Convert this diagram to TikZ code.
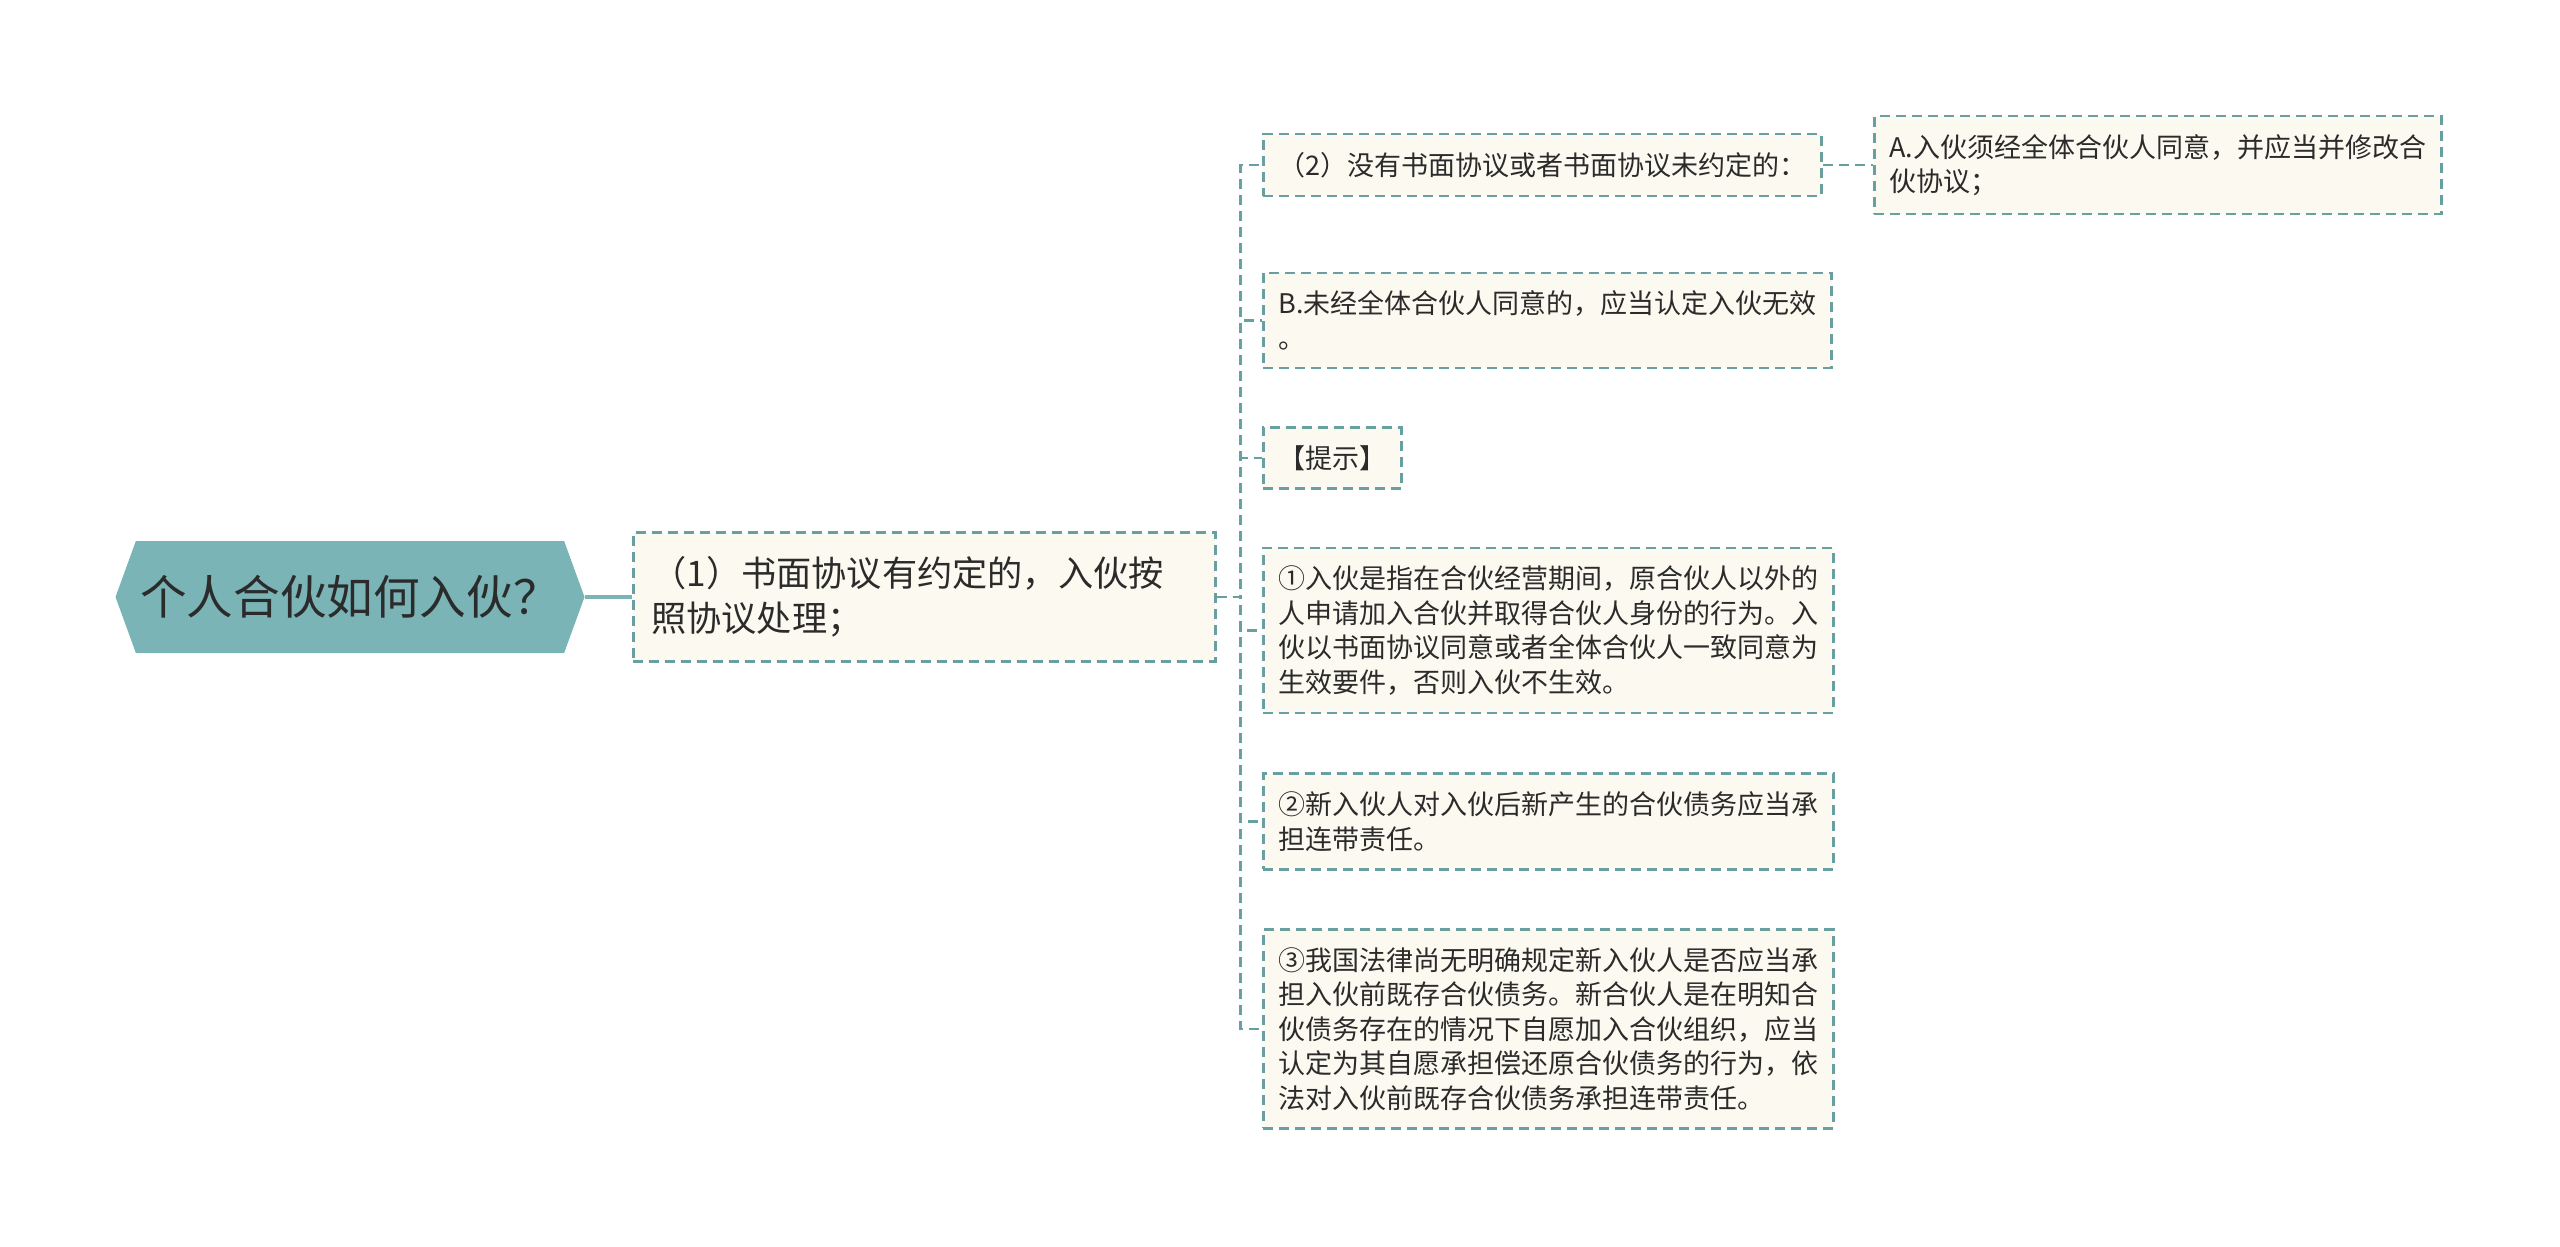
\documentclass[tikz,border=0pt]{standalone}
\usepackage{fontspec}
\setmainfont{Noto Sans CJK SC}
\usetikzlibrary{shapes.symbols}

\definecolor{rootfill}{HTML}{7AB4B6}
\definecolor{edgeteal}{HTML}{68A0A2}
\definecolor{notefill}{HTML}{FCFAF0}
\definecolor{inktext}{HTML}{2B2B2B}

\tikzset{
    rootnode/.style={signal, signal to=west and east, signal pointer angle=140, fill=rootfill, text=inktext,
        font=\fontsize{23.3pt}{27pt}\selectfont, minimum height=56pt, minimum width=234.5pt, inner xsep=2pt},
    notebox/.style={draw=edgeteal, fill=notefill, dash pattern=on 5pt off 3pt, line width=1.3pt,
        text=inktext, align=left, anchor=west},
    topicbox/.style={notebox, font=\fontsize{17.6pt}{22.5pt}\selectfont, text width=273pt, inner xsep=9pt, inner ysep=12pt},
    leafbox/.style={notebox, font=\fontsize{13.5pt}{17.2pt}\selectfont, inner xsep=7.5pt, inner ysep=9pt},
    branch/.style={draw=edgeteal, dash pattern=on 5pt off 3pt, line width=1.3pt},
    rootline/.style={draw=rootfill, line width=2pt}
}

\begin{document}
\begin{tikzpicture}[x=0.5pt, y=-0.5pt]
        \useasboundingbox (0, 0) rectangle (2560, 1247);

        \node [rootnode] (root) at (350, 597) {个人合伙如何入伙？};
        \node [topicbox] (written) at (632, 597) {（1）书面协议有约定的，入伙按\\照协议处理；};

        \node [leafbox] (nowritten) at (1262, 165) {（2）没有书面协议或者书面协议未约定的：};
        \node [leafbox] (consentA) at (1873, 165) {A.入伙须经全体合伙人同意，并应当并修改合\\伙协议；};
        \node [leafbox] (invalidB) at (1262, 320.5) {B.未经全体合伙人同意的，应当认定入伙无效\\。};
        \node [leafbox] (hint) at (1262, 458) {【提示】};
        \node [leafbox] (meaning) at (1262, 630.5) {①入伙是指在合伙经营期间，原合伙人以外的\\人申请加入合伙并取得合伙人身份的行为。入\\伙以书面协议同意或者全体合伙人一致同意为\\生效要件，否则入伙不生效。};
        \node [leafbox] (newdebt) at (1262, 821.5) {②新入伙人对入伙后新产生的合伙债务应当承\\担连带责任。};
        \node [leafbox] (olddebt) at (1262, 1029) {③我国法律尚无明确规定新入伙人是否应当承\\担入伙前既存合伙债务。新合伙人是在明知合\\伙债务存在的情况下自愿加入合伙组织，应当\\认定为其自愿承担偿还原合伙债务的行为，依\\法对入伙前既存合伙债务承担连带责任。};

        \draw [rootline] (root.east) -- (written.west);
        \foreach \leaf in {nowritten, invalidB, hint, meaning, newdebt, olddebt}
            \draw [branch] (written.east) -- ++(24, 0) |- (\leaf.west);
        \draw [branch] (nowritten.east) -- (consentA.west);
    \end{tikzpicture}
\end{document}
